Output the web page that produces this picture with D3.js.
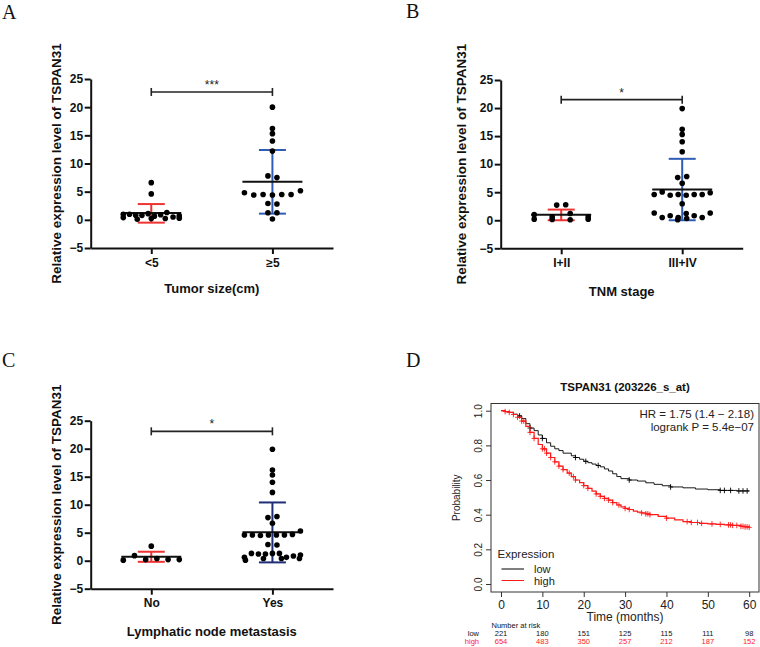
<!DOCTYPE html>
<html><head><meta charset="utf-8">
<script src="https://cdn.jsdelivr.net/npm/d3@7"></script>
<style>html,body{margin:0;padding:0;background:#fff}svg{display:block}</style>
</head><body>
<svg id="c" width="760" height="647"></svg>
<script>
// ---------------- DATA ----------------
const yTicksDot = [-5, 0, 5, 10, 15, 20, 25];

// Panel A: tumor size
const catsA = ["<5", "≥5"];
const groupA1 = [6.6, 4.6, 0.4, 1.0, 1.0, 0.8, 0.1, 0.8, 0.25, 1.1, 0.25, 0.65, 0.9, 1.3, 0.5, 0.3, 0.7];
const groupA2 = [20.0, 16.2, 15.3, 14.0, 12.2, 7.8, 7.5, 4.8, 4.4, 4.5, 4.4, 4.5, 4.5, 5.15, 2.9, 2.8, 1.25, 0.15, 1.25];
const meanA = [1.2, 6.75];
const errLoA = [-0.5, 1.1];
const errHiA = [2.8, 12.4];
const sigA = 22.7, starsA = "***";

// Panel B: TNM stage
const catsB = ["I+II", "III+IV"];
const groupB1 = [0.2, 1.0, 0.15, 2.7, 0.6, 2.75, 1.2, 0.1, 0.6, 0.2];
const groupB2 = [19.9, 16.2, 15.3, 14.0, 12.2, 7.6, 7.8, 6.6, 4.6, 5.05, 4.45, 4.6, 4.45, 4.6, 4.6, 4.9, 2.95, 1.3, 0.5, 0.8, 0.5, 1.2, 0.8, 0.1, 0.5, 0.3, 1.3];
const meanB = [1.0, 5.5];
const errLoB = [0.0, 0.0];
const errHiB = [1.9, 10.95];
const sigB = 21.5, starsB = "*";

// Panel C: lymphatic node metastasis
const catsC = ["No", "Yes"];
const groupC1 = [0.1, 0.9, 0.2, 2.6, 0.4, 0.2, 0.2];
const groupC2 = [19.9, 16.2, 15.3, 14.0, 12.2, 7.7, 7.9, 6.7, 4.6, 4.6, 4.5, 4.6, 4.6, 4.6, 4.7, 5.3, 2.9, 2.8, 0.6, 1.3, 1.2, 1.2, 1.3, 1.3, 0.1, 0.4, 0.4, 0.4, 0.6, 0.85, 1.0];
const meanC = [0.7, 5.1];
const errLoC = [-0.2, -0.3];
const errHiC = [1.6, 10.4];
const sigC = 23.1, starsC = "*";

// Panel D: Kaplan-Meier
const kmTimeLow = [0, 1, 2, 3, 4, 5, 6, 7, 8, 9, 10, 11, 12, 13, 14, 15, 17, 18, 19, 20, 21, 22, 23, 24, 25, 26, 27, 28, 29, 31, 33, 35, 37, 39, 41, 44, 47, 50, 53, 57, 60];
const kmSurvLow = [1.0, 0.995, 0.99, 0.98, 0.97, 0.955, 0.925, 0.9, 0.885, 0.86, 0.84, 0.815, 0.795, 0.78, 0.77, 0.755, 0.74, 0.73, 0.72, 0.708, 0.7, 0.692, 0.684, 0.676, 0.664, 0.652, 0.636, 0.62, 0.608, 0.6, 0.594, 0.584, 0.575, 0.567, 0.56, 0.555, 0.548, 0.544, 0.54, 0.537, 0.537];
const kmTimeHigh = [0, 1, 2, 3, 4, 5, 6, 7, 8, 9, 10, 11, 12, 13, 14, 15, 16, 17, 18, 19, 20, 21, 22, 23, 24, 25, 26, 27, 28, 29, 30, 31, 32, 33, 34, 35, 36, 38, 40, 42, 44, 46, 48, 50, 52, 54, 56, 58, 59, 60];
const kmSurvHigh = [1.0, 0.995, 0.99, 0.978, 0.962, 0.94, 0.91, 0.875, 0.84, 0.805, 0.78, 0.755, 0.73, 0.705, 0.68, 0.66, 0.64, 0.62, 0.6, 0.585, 0.568, 0.552, 0.536, 0.52, 0.506, 0.494, 0.484, 0.47, 0.456, 0.445, 0.436, 0.43, 0.421, 0.415, 0.41, 0.405, 0.4, 0.39, 0.38, 0.37, 0.36, 0.355, 0.35, 0.347, 0.344, 0.341, 0.338, 0.333, 0.33, 0.327];
const censorLow = [4.5, 7, 10, 18, 20.5, 23.5, 31, 41, 53, 54, 55.5, 57.5, 58.5, 59.5];
const censorHigh = [1, 2, 3, 4, 5, 5.5, 7, 8, 10, 10.5, 11, 12, 13, 14, 15, 16.5, 17.5, 18, 20, 21, 23, 24, 25, 26, 27, 28.5, 30, 31, 34, 35, 35.5, 36, 40, 45, 46, 47.5, 48.5, 51, 53, 55, 55.5, 56, 57, 58, 58.5, 59, 59.5, 60];
const riskTimes = [0, 10, 20, 30, 40, 50, 60];
const riskLow = [221, 180, 151, 125, 115, 111, 98];
const riskHigh = [654, 483, 350, 257, 212, 187, 152];
const xTicksKM = [0, 10, 20, 30, 40, 50, 60];
const yTicksKM = [0, 0.2, 0.4, 0.6, 0.8, 1.0];

// ---------------- DRAWING ----------------
const SANS = "'Liberation Sans', Arial, Helvetica, sans-serif";
const SERIF = "'Liberation Serif', 'Times New Roman', serif";
const svg = d3.select("#c");
const RED = "#ee3333";

function swarmOffsets(values, y, binPx) {
  const idx = values.map((v, i) => i).sort((a, b) => values[b] - values[a] || a - b);
  const bins = [];
  let cur = null;
  idx.forEach(i => {
    if (cur && y(values[i]) - y(values[cur[0]]) < binPx) cur.push(i);
    else { cur = [i]; bins.push(cur); }
  });
  const off = new Array(values.length).fill(0);
  bins.forEach(b => {
    b.sort((p, q) => p - q);
    const n = b.length;
    const sp = n <= 1 ? 0 : (n === 2 ? 9 : Math.min(18, 56 / (n - 1)));
    b.forEach((i, k) => off[i] = (k - (n - 1) / 2) * sp);
  });
  return off;
}

function dotPanel(o) {
  const g = svg.append("g");
  const x = d3.scalePoint().domain(o.cats).range([o.left, o.right]).padding(0.5);
  const y = d3.scaleLinear().domain([-5, 25]).range([o.bottom, o.top]);

  const ya = g.append("g").attr("transform", `translate(${o.left},0)`)
    .call(d3.axisLeft(y).tickValues(yTicksDot).tickSizeInner(6).tickSizeOuter(0).tickPadding(1.5));
  const xa = g.append("g").attr("transform", `translate(0,${y(-5)})`)
    .call(d3.axisBottom(x).tickSizeInner(6).tickSizeOuter(0).tickPadding(4));
  [ya, xa].forEach(a => {
    a.select(".domain").attr("stroke", "#111").attr("stroke-width", 2);
    a.selectAll(".tick line").attr("stroke", "#111").attr("stroke-width", 2);
    a.selectAll(".tick text").attr("font-family", SANS).attr("font-size", 12)
      .attr("font-weight", "bold").attr("fill", "#111");
  });

  // axis titles
  g.append("text").attr("transform", `translate(${o.ylabX},${(y(-5) + y(25)) / 2}) rotate(-90)`)
    .attr("text-anchor", "middle").attr("font-family", SANS).attr("font-weight", "bold")
    .attr("font-size", 13.5).attr("fill", "#111").text("Relative expression level of TSPAN31");
  g.append("text").attr("x", (o.left + o.right) / 2).attr("y", o.xtitleY)
    .attr("text-anchor", "middle").attr("font-family", SANS).attr("font-weight", "bold")
    .attr("font-size", 13).attr("fill", "#111").text(o.xtitle);
  // panel letter
  g.append("text").attr("x", o.letterX).attr("y", o.letterY).attr("font-family", SERIF)
    .attr("font-size", 20).attr("fill", "#111").text(o.letter);

  // error bars and means
  o.cats.forEach((c, i) => {
    const cx = x(c), col = o.colors[i];
    g.append("line").attr("x1", cx).attr("x2", cx).attr("y1", y(o.lo[i])).attr("y2", y(o.hi[i]))
      .attr("stroke", col).attr("stroke-width", 2);
    [o.lo[i], o.hi[i]].forEach(v => g.append("line").attr("x1", cx - 13.5).attr("x2", cx + 13.5)
      .attr("y1", y(v)).attr("y2", y(v)).attr("stroke", col).attr("stroke-width", 2));
    g.append("line").attr("x1", cx - 30).attr("x2", cx + 30).attr("y1", y(o.mean[i])).attr("y2", y(o.mean[i]))
      .attr("stroke", "#111").attr("stroke-width", 2);
  });

  // dots
  o.groups.forEach((vals, i) => {
    const cx = x(o.cats[i]);
    const off = swarmOffsets(vals, y, 4.8);
    g.append("g").selectAll("circle").data(vals).join("circle")
      .attr("cx", (d, k) => cx + off[k]).attr("cy", d => y(d)).attr("r", 2.8).attr("fill", "#000");
  });

  // significance bar
  const sy = y(o.sig), x0 = x(o.cats[0]), x1 = x(o.cats[1]);
  g.append("line").attr("x1", x0).attr("x2", x1).attr("y1", sy).attr("y2", sy)
    .attr("stroke", "#222").attr("stroke-width", 1.6);
  [x0, x1].forEach(xx => g.append("line").attr("x1", xx).attr("x2", xx).attr("y1", sy - 4).attr("y2", sy + 4)
    .attr("stroke", "#222").attr("stroke-width", 1.6));
  g.append("text").attr("x", (x0 + x1) / 2).attr("y", sy - 3).attr("text-anchor", "middle")
    .attr("font-family", SANS).attr("font-size", 12).attr("fill", "#222").text(o.stars);
}

dotPanel({ cats: catsA, groups: [groupA1, groupA2], mean: meanA, lo: errLoA, hi: errHiA,
  sig: sigA, stars: starsA, colors: [RED, "#2f5cb5"],
  left: 90.7, right: 333, top: 79, bottom: 248, ylabX: 61, xtitleY: 292.5,
  xtitle: "Tumor size(cm)", letter: "A", letterX: 2, letterY: 18.5 });

dotPanel({ cats: catsB, groups: [groupB1, groupB2], mean: meanB, lo: errLoB, hi: errHiB,
  sig: sigB, stars: starsB, colors: [RED, "#2f5cb5"],
  left: 500.7, right: 742.7, top: 80, bottom: 248.3, ylabX: 466, xtitleY: 296,
  xtitle: "TNM stage", letter: "B", letterX: 406, letterY: 18 });

dotPanel({ cats: catsC, groups: [groupC1, groupC2], mean: meanC, lo: errLoC, hi: errHiC,
  sig: sigC, stars: starsC, colors: [RED, "#1f2e78"],
  left: 90.7, right: 333, top: 420.7, bottom: 588.7, ylabX: 61, xtitleY: 636,
  xtitle: "Lymphatic node metastasis", letter: "C", letterX: 2, letterY: 367 });

// ---------- Panel D ----------
(function () {
  const g = svg.append("g");
  const box = { l: 491, r: 759, t: 403.5, b: 592 };
  const x = d3.scaleLinear().domain([0, 60]).range([501, 749.2]);
  const y = d3.scaleLinear().domain([0, 1]).range([584, 410.7]);

  g.append("text").attr("x", 406).attr("y", 367).attr("font-family", SERIF)
    .attr("font-size", 20).attr("fill", "#111").text("D");
  g.append("text").attr("x", 625).attr("y", 391).attr("text-anchor", "middle")
    .attr("font-family", SANS).attr("font-weight", "bold").attr("font-size", 11.5)
    .attr("fill", "#111").text("TSPAN31 (203226_s_at)");

  const step = (ts, ss, t) => { let s = ss[0]; ts.forEach((tt, i) => { if (tt <= t) s = ss[i]; }); return s; };
  const line = d3.line().x(d => x(d[0])).y(d => y(d[1])).curve(d3.curveStepAfter);

  const series = [
    { t: kmTimeLow, s: kmSurvLow, c: censorLow, col: "#000", w: 0.9 },
    { t: kmTimeHigh, s: kmSurvHigh, c: censorHigh, col: "#ff1a1a", w: 1.2 }
  ];
  series.forEach(se => {
    g.append("path").datum(se.t.map((t, i) => [t, se.s[i]])).attr("d", line)
      .attr("fill", "none").attr("stroke", se.col).attr("stroke-width", se.w);
    g.append("g").selectAll("path").data(se.c).join("path")
      .attr("transform", d => `translate(${x(d)},${y(step(se.t, se.s, d))})`)
      .attr("d", "M-2.5,0H2.5M0,-2.8V2.8").attr("stroke", se.col).attr("stroke-width", 0.9);
  });

  g.append("rect").attr("x", box.l).attr("y", box.t).attr("width", box.r - box.l).attr("height", box.b - box.t)
    .attr("fill", "none").attr("stroke", "#333").attr("stroke-width", 1);

  const xa = g.append("g").attr("transform", `translate(0,${box.b})`)
    .call(d3.axisBottom(x).tickValues(xTicksKM).tickSize(5).tickPadding(3));
  xa.select(".domain").remove();
  xa.selectAll(".tick line").attr("stroke", "#333");
  xa.selectAll(".tick text").attr("font-family", SANS).attr("font-size", 12).attr("fill", "#222");

  const ya = g.append("g").attr("transform", `translate(${box.l},0)`)
    .call(d3.axisLeft(y).tickValues(yTicksKM).tickSize(5).tickFormat(d3.format(".1f")));
  ya.select(".domain").remove();
  ya.selectAll(".tick line").attr("stroke", "#333");
  ya.selectAll(".tick text").attr("font-family", SANS).attr("font-size", 10).attr("fill", "#222")
    .attr("x", null).attr("dy", null).attr("text-anchor", "middle")
    .attr("transform", "translate(-9.5,0) rotate(-90)");

  g.append("text").attr("x", 625).attr("y", 621).attr("text-anchor", "middle")
    .attr("font-family", SANS).attr("font-size", 12).attr("fill", "#222").text("Time (months)");
  g.append("text").attr("transform", `translate(459.5,${(box.t + box.b) / 2}) rotate(-90)`)
    .attr("text-anchor", "middle").attr("font-family", SANS).attr("font-size", 10)
    .attr("fill", "#222").text("Probability");

  // HR text
  g.append("text").attr("x", 754).attr("y", 417.5).attr("text-anchor", "end")
    .attr("font-family", SANS).attr("font-size", 11.5).attr("fill", "#222").text("HR = 1.75 (1.4 \u2212 2.18)");
  g.append("text").attr("x", 754).attr("y", 430.5).attr("text-anchor", "end")
    .attr("font-family", SANS).attr("font-size", 11.5).attr("fill", "#222").text("logrank P = 5.4e\u221207");

  // legend
  g.append("text").attr("x", 497.5).attr("y", 558).attr("font-family", SANS).attr("font-size", 11.5)
    .attr("fill", "#222").text("Expression");
  [["low", "#000", 569, 572.5], ["high", "#ff1a1a", 580.5, 585]].forEach(([lab, col, ly, ty]) => {
    g.append("line").attr("x1", 501.5).attr("x2", 524).attr("y1", ly).attr("y2", ly)
      .attr("stroke", col).attr("stroke-width", 1);
    g.append("text").attr("x", 534).attr("y", ty).attr("font-family", SANS).attr("font-size", 11)
      .attr("fill", "#222").text(lab);
  });

  // number at risk
  g.append("text").attr("x", 491.5).attr("y", 627.5).attr("font-family", SANS).attr("font-size", 7.5)
    .attr("fill", "#111").text("Number at risk");
  [["low", riskLow, "#111", 635.5], ["high", riskHigh, "#ff1a1a", 643.5]].forEach(([lab, arr, col, ry]) => {
    g.append("text").attr("x", 479).attr("y", ry).attr("text-anchor", "end").attr("font-family", SANS)
      .attr("font-size", 7.5).attr("fill", col).text(lab);
    g.append("g").selectAll("text").data(arr).join("text")
      .attr("x", (d, i) => x(riskTimes[i])).attr("y", ry).attr("text-anchor", "middle")
      .attr("font-family", SANS).attr("font-size", 7.5).attr("fill", col).text(d => d);
  });
})();
</script>
</body></html>
